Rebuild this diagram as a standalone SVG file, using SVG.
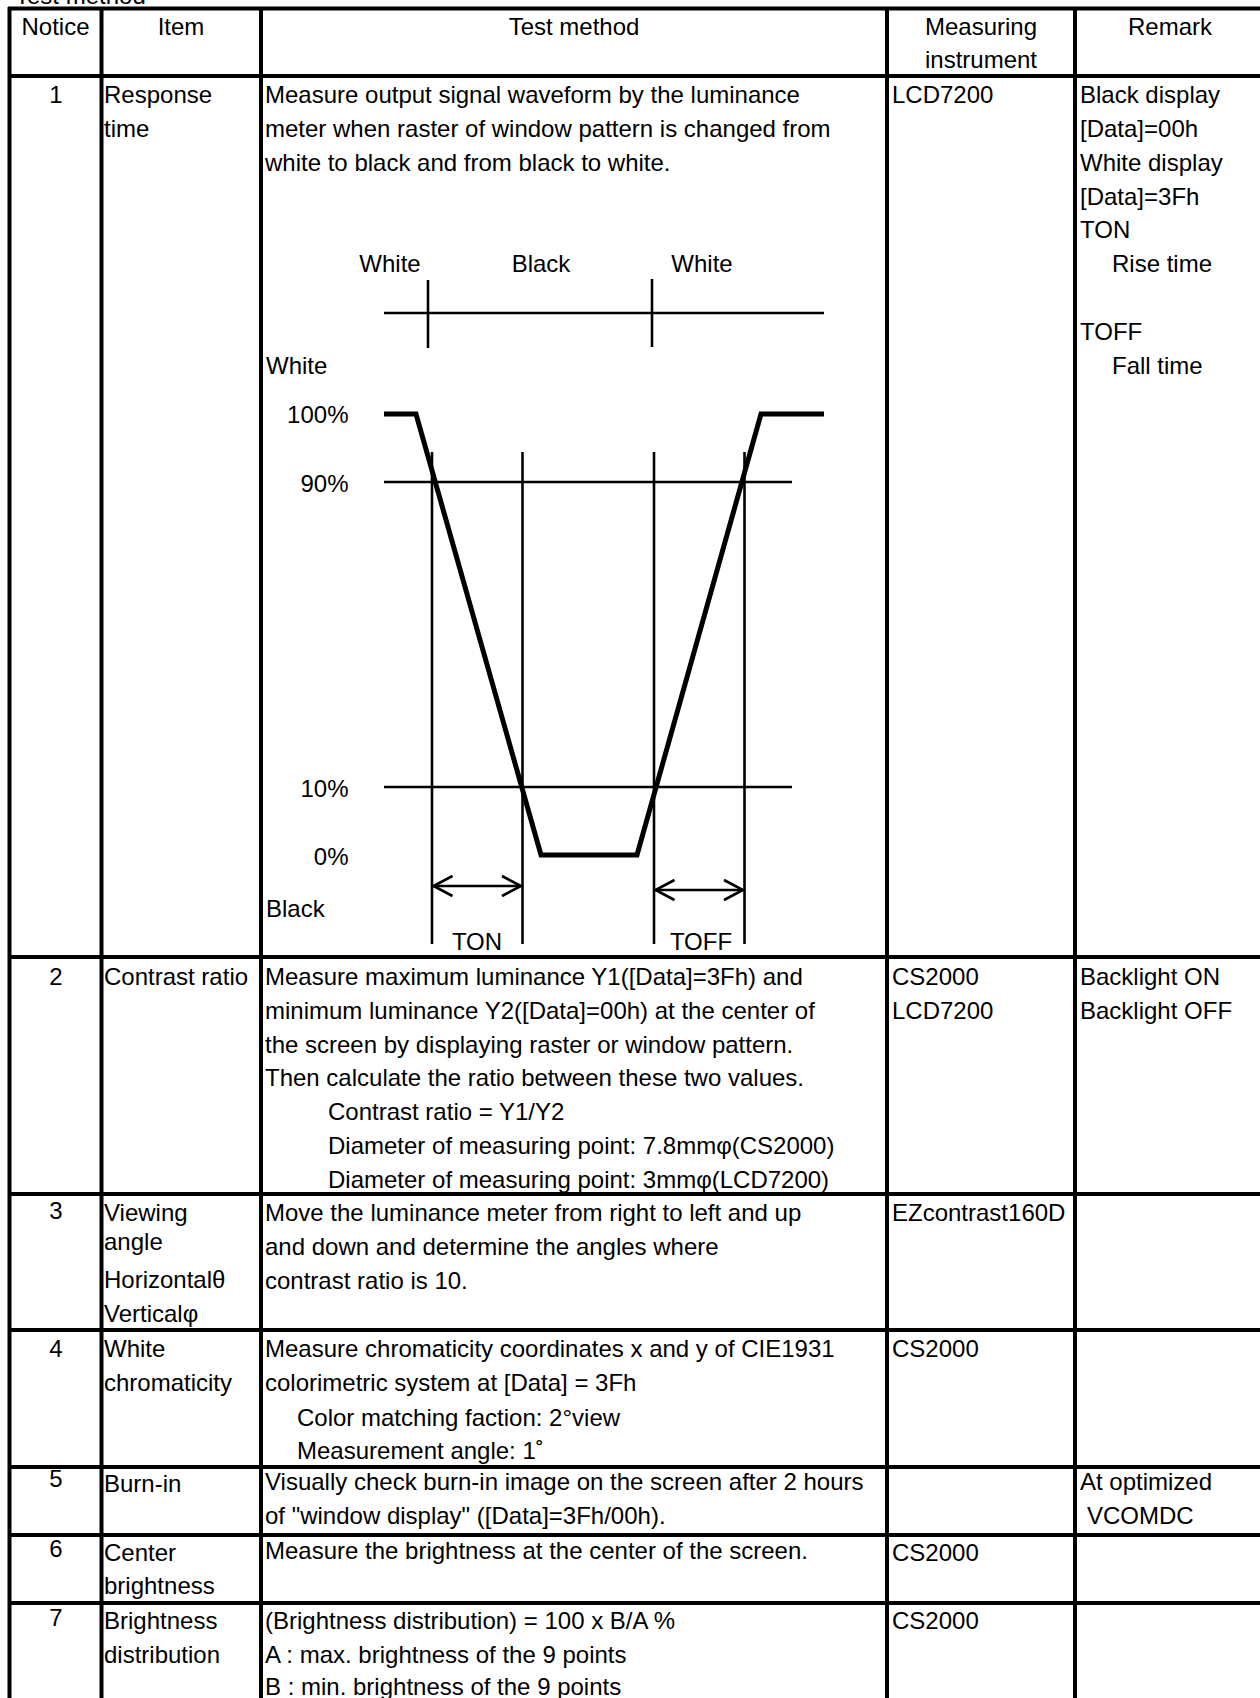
<svg xmlns="http://www.w3.org/2000/svg" width="1260" height="1698" viewBox="0 0 1260 1698">
<defs>
<style>
text{font-family:"Liberation Sans",Arial,sans-serif;font-size:24px;fill:#000}
.c{text-anchor:middle}
.r{text-anchor:end}
.grid{stroke:#000;stroke-width:4;fill:none}
.thin{stroke:#000;stroke-width:2.6;fill:none}
.wave{stroke:#000;stroke-width:5;fill:none;stroke-linejoin:miter}
</style>
<marker id="ah" markerUnits="userSpaceOnUse" viewBox="0 0 22 22" refX="20" refY="11" markerWidth="22" markerHeight="22" orient="auto-start-reverse" overflow="visible">
<path d="M1,1 L20,11 L1,21" fill="none" stroke="#000" stroke-width="2.6"/>
</marker>
</defs>
<rect width="1260" height="1698" fill="#fff"/>
<text x="15" y="4">Test method</text>

<g id="grid">
<line class="grid" x1="8" y1="8.5" x2="1260" y2="8.5"/>
<line class="grid" x1="8" y1="76" x2="1260" y2="76"/>
<line class="grid" x1="8" y1="957" x2="1260" y2="957"/>
<line class="grid" x1="8" y1="1194" x2="1260" y2="1194"/>
<line class="grid" x1="8" y1="1330" x2="1260" y2="1330"/>
<line class="grid" x1="8" y1="1467" x2="1260" y2="1467"/>
<line class="grid" x1="8" y1="1535" x2="1260" y2="1535"/>
<line class="grid" x1="8" y1="1603" x2="1260" y2="1603"/>
<line class="grid" x1="9.5" y1="7" x2="9.5" y2="1698"/>
<line class="grid" x1="101.5" y1="7" x2="101.5" y2="1698"/>
<line class="grid" x1="261" y1="7" x2="261" y2="1698"/>
<line class="grid" x1="887" y1="7" x2="887" y2="1698"/>
<line class="grid" x1="1075" y1="7" x2="1075" y2="1698"/>
</g>

<g id="header">
<text class="c" x="55.5" y="34.5">Notice</text>
<text class="c" x="181" y="34.5">Item</text>
<text class="c" x="574" y="34.5">Test method</text>
<text class="c" x="981" y="34.5">Measuring</text>
<text class="c" x="981" y="68">instrument</text>
<text class="c" x="1170" y="34.5">Remark</text>
</g>

<g id="row1">
<text class="c" x="56" y="103">1</text>
<text x="104" y="103">Response</text>
<text x="104" y="137">time</text>
<text x="265" y="103">Measure output signal waveform by the luminance</text>
<text x="265" y="137">meter when raster of window pattern is changed from</text>
<text x="265" y="170.5">white to black and from black to white.</text>
<text x="892" y="103">LCD7200</text>
<text x="1080" y="103">Black display</text>
<text x="1080" y="137">[Data]=00h</text>
<text x="1080" y="170.5">White display</text>
<text x="1080" y="204.5">[Data]=3Fh</text>
<text x="1080" y="238">TON</text>
<text x="1112" y="272">Rise time</text>
<text x="1080" y="340">TOFF</text>
<text x="1112" y="374">Fall time</text>
</g>

<g id="diagram">
<text class="c" x="390" y="271.5">White</text>
<text class="c" x="541" y="271.5">Black</text>
<text class="c" x="702" y="271.5">White</text>
<line class="thin" x1="384" y1="313" x2="824" y2="313"/>
<line class="thin" x1="428" y1="280" x2="428" y2="348"/>
<line class="thin" x1="652" y1="279" x2="652" y2="347"/>
<text x="266" y="373.5">White</text>
<text class="r" x="348.5" y="423">100%</text>
<text class="r" x="348.5" y="491.5">90%</text>
<text class="r" x="348.5" y="796.5">10%</text>
<text class="r" x="348.5" y="865">0%</text>
<text x="266" y="916.5">Black</text>
<line class="thin" x1="384" y1="482" x2="792" y2="482"/>
<line class="thin" x1="384" y1="787" x2="792" y2="787"/>
<line class="thin" x1="432" y1="452" x2="432" y2="944"/>
<line class="thin" x1="522.5" y1="452" x2="522.5" y2="944"/>
<line class="thin" x1="654" y1="452" x2="654" y2="944"/>
<line class="thin" x1="744.5" y1="452" x2="744.5" y2="944"/>
<polyline class="wave" points="384,414 416,414 541,855 637,855 761,414 824,414"/>
<line class="thin" x1="433.5" y1="886" x2="521" y2="886" marker-start="url(#ah)" marker-end="url(#ah)"/>
<line class="thin" x1="655.5" y1="890" x2="743" y2="890" marker-start="url(#ah)" marker-end="url(#ah)"/>
<text class="c" x="477" y="950">TON</text>
<text class="c" x="701" y="950">TOFF</text>
</g>

<g id="row2">
<text class="c" x="56" y="985">2</text>
<text x="104" y="985">Contrast ratio</text>
<text x="265" y="985">Measure maximum luminance Y1([Data]=3Fh) and</text>
<text x="265" y="1018.7">minimum luminance Y2([Data]=00h) at the center of</text>
<text x="265" y="1052.5">the screen by displaying raster or window pattern.</text>
<text x="265" y="1086.3">Then calculate the ratio between these two values.</text>
<text x="328" y="1120">Contrast ratio = Y1/Y2</text>
<text x="328" y="1154">Diameter of measuring point: 7.8mmφ(CS2000)</text>
<text x="328" y="1188">Diameter of measuring point: 3mmφ(LCD7200)</text>
<text x="892" y="985">CS2000</text>
<text x="892" y="1018.7">LCD7200</text>
<text x="1080" y="985">Backlight ON</text>
<text x="1080" y="1018.7">Backlight OFF</text>
</g>

<g id="row3">
<text class="c" x="56" y="1219">3</text>
<text x="104" y="1221">Viewing</text>
<text x="104" y="1250">angle</text>
<text x="104" y="1288">Horizontalθ</text>
<text x="104" y="1322">Verticalφ</text>
<text x="265" y="1221">Move the luminance meter from right to left and up</text>
<text x="265" y="1255">and down and determine the angles where</text>
<text x="265" y="1289">contrast ratio is 10.</text>
<text x="892" y="1221">EZcontrast160D</text>
</g>

<g id="row4">
<text class="c" x="56" y="1357">4</text>
<text x="104" y="1357">White</text>
<text x="104" y="1391">chromaticity</text>
<text x="265" y="1357">Measure chromaticity coordinates x and y of CIE1931</text>
<text x="265" y="1391">colorimetric system at [Data] = 3Fh</text>
<text x="297" y="1425.5">Color matching faction: 2°view</text>
<text x="297" y="1459">Measurement angle: 1˚</text>
<text x="892" y="1357">CS2000</text>
</g>

<g id="row5">
<text class="c" x="56" y="1487">5</text>
<text x="104" y="1492">Burn-in</text>
<text x="265" y="1490">Visually check burn-in image on the screen after 2 hours</text>
<text x="265" y="1524">of "window display" ([Data]=3Fh/00h).</text>
<text x="1080" y="1490">At optimized</text>
<text x="1087" y="1524">VCOMDC</text>
</g>

<g id="row6">
<text class="c" x="56" y="1556.5">6</text>
<text x="104" y="1561">Center</text>
<text x="104" y="1594">brightness</text>
<text x="265" y="1558.7">Measure the brightness at the center of the screen.</text>
<text x="892" y="1561">CS2000</text>
</g>

<g id="row7">
<text class="c" x="56" y="1626">7</text>
<text x="104" y="1629">Brightness</text>
<text x="104" y="1662.6">distribution</text>
<text x="265" y="1629">(Brightness distribution) = 100 x B/A %</text>
<text x="265" y="1662.6">A : max. brightness of the 9 points</text>
<text x="265" y="1695">B : min. brightness of the 9 points</text>
<text x="892" y="1629">CS2000</text>
</g>
</svg>
